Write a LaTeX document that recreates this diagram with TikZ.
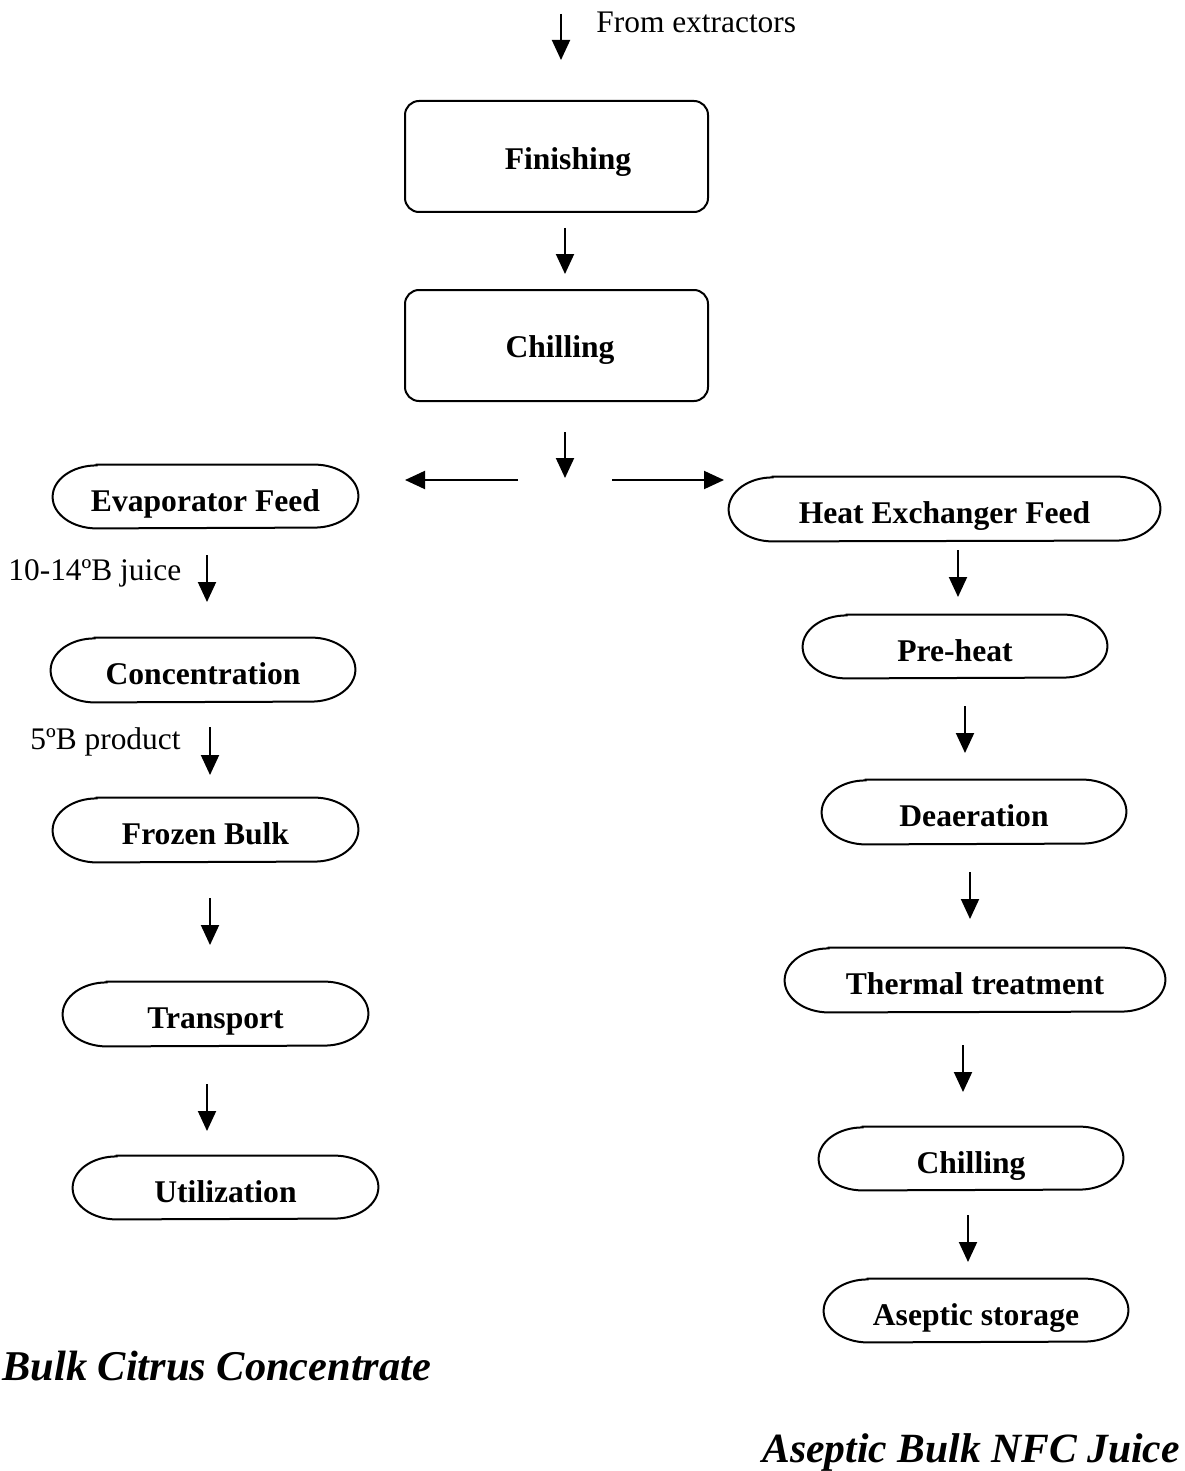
\documentclass[tikz,border=0pt]{standalone}
\usepackage{fontspec}
\setmainfont{Liberation Serif}
\usetikzlibrary{arrows.meta}
\tikzset{
  arr/.style={line width=1pt,-{Triangle[length=10pt,width=9pt]}},
  boxnode/.style={draw,line width=1pt,rounded corners=7pt,inner sep=0pt,font=\fontsize{15.8}{18}\selectfont\bfseries},
  stadtext/.style={inner sep=0pt,font=\fontsize{15.8}{18}\selectfont\bfseries},
  stadline/.style={line width=1pt},
  lbl/.style={inner sep=0pt,font=\fontsize{15.7}{18}\selectfont},
  ttl/.style={inner sep=0pt,font=\fontsize{21.2}{24}\selectfont\bfseries\itshape}
}
\newcommand\stad[6]{%
  \node[stadtext,minimum width=#4*0.5pt,minimum height=#5*0.5pt,text depth=0pt,yshift=-2pt] (#1) at (#2,-#3) {#6};
  \draw[stadline] ([xshift=22pt,yshift=2pt]#1.north west) -- ([xshift=-22pt,yshift=2pt]#1.north east)
    arc[start angle=90,end angle=-90,x radius=22pt,y radius=#5*0.25pt]
    -- ([xshift=22pt,yshift=2pt]#1.south west)
    arc[start angle=270,end angle=90,x radius=22pt,y radius=#5*0.25pt] -- cycle;}
\begin{document}
\begin{tikzpicture}[x=0.5pt,y=0.5pt]
\useasboundingbox (0,0) rectangle (1184,-1471);
% top
\coordinate (in0) at (561,-14);
\coordinate (in1) at (561,-60);
\draw[arr] (in0) -- (in1);
\node[lbl,anchor=base west] (from) at (596,-33) {From extractors};
\node[boxnode,minimum width=151.5pt,minimum height=55.5pt] (fin) at (556.5,-156.5) {};
\node[stadtext] (fint) at (568,-162) {Finishing};
\node[boxnode,minimum width=151.5pt,minimum height=55.5pt] (chi) at (556.5,-345.5) {};
\node[stadtext] (chit) at (560,-350) {Chilling};
\coordinate (a1s) at (565,-228); \coordinate (a1e) at (565,-274);
\draw[arr] (a1s) -- (a1e);
\coordinate (a2s) at (565,-432); \coordinate (a2e) at (565,-478);
\draw[arr] (a2s) -- (a2e);
\coordinate (l0) at (518,-480); \coordinate (l1) at (405,-480);
\draw[arr] (l0) -- (l1);
\coordinate (r0) at (612,-480); \coordinate (r1) at (724,-480);
\draw[arr] (r0) -- (r1);
% left branch
\stad{evap}{205.5}{496.5}{305}{63}{Evaporator Feed}
\stad{conc}{203}{670}{304}{64}{Concentration}
\stad{froz}{205.5}{830}{305}{64}{Frozen Bulk}
\stad{trans}{215.5}{1014}{305}{64}{Transport}
\stad{util}{225.5}{1187.5}{305}{63}{Utilization}
\node[lbl,anchor=base west] (juice) at (8,-580) {10-14ºB juice};
\node[lbl,anchor=base west] (prod) at (30,-749) {5ºB product};
\coordinate (b1s) at (207,-555); \coordinate (b1e) at (207,-602);
\draw[arr] (b1s) -- (b1e);
\coordinate (b2s) at (210,-727); \coordinate (b2e) at (210,-775);
\draw[arr] (b2s) -- (b2e);
\coordinate (b3s) at (210,-898); \coordinate (b3e) at (210,-945);
\draw[arr] (b3s) -- (b3e);
\coordinate (b4s) at (207,-1084); \coordinate (b4e) at (207,-1131);
\draw[arr] (b4s) -- (b4e);
\node[ttl,anchor=base west] (t1) at (2,-1380) {Bulk Citrus Concentrate};
% right branch
\stad{hex}{944.5}{509}{431}{64}{Heat Exchanger Feed}
\stad{pre}{955}{646.5}{304}{63}{Pre-heat}
\stad{dea}{974}{812}{304}{64}{Deaeration}
\stad{therm}{975}{980}{380}{64}{Thermal treatment}
\stad{chil2}{971}{1158.5}{304}{63}{Chilling}
\stad{asep}{976}{1310.5}{304}{63}{Aseptic storage}
\coordinate (c1s) at (958,-550); \coordinate (c1e) at (958,-597);
\draw[arr] (c1s) -- (c1e);
\coordinate (c2s) at (965,-706); \coordinate (c2e) at (965,-753);
\draw[arr] (c2s) -- (c2e);
\coordinate (c3s) at (970,-872); \coordinate (c3e) at (970,-919);
\draw[arr] (c3s) -- (c3e);
\coordinate (c4s) at (963,-1045); \coordinate (c4e) at (963,-1092);
\draw[arr] (c4s) -- (c4e);
\coordinate (c5s) at (968,-1215); \coordinate (c5e) at (968,-1262);
\draw[arr] (c5s) -- (c5e);
\node[ttl,anchor=base east,font=\fontsize{20.8}{24}\selectfont\bfseries\itshape] (t2) at (1180,-1462) {Aseptic Bulk NFC Juice};
\end{tikzpicture}
\end{document}
